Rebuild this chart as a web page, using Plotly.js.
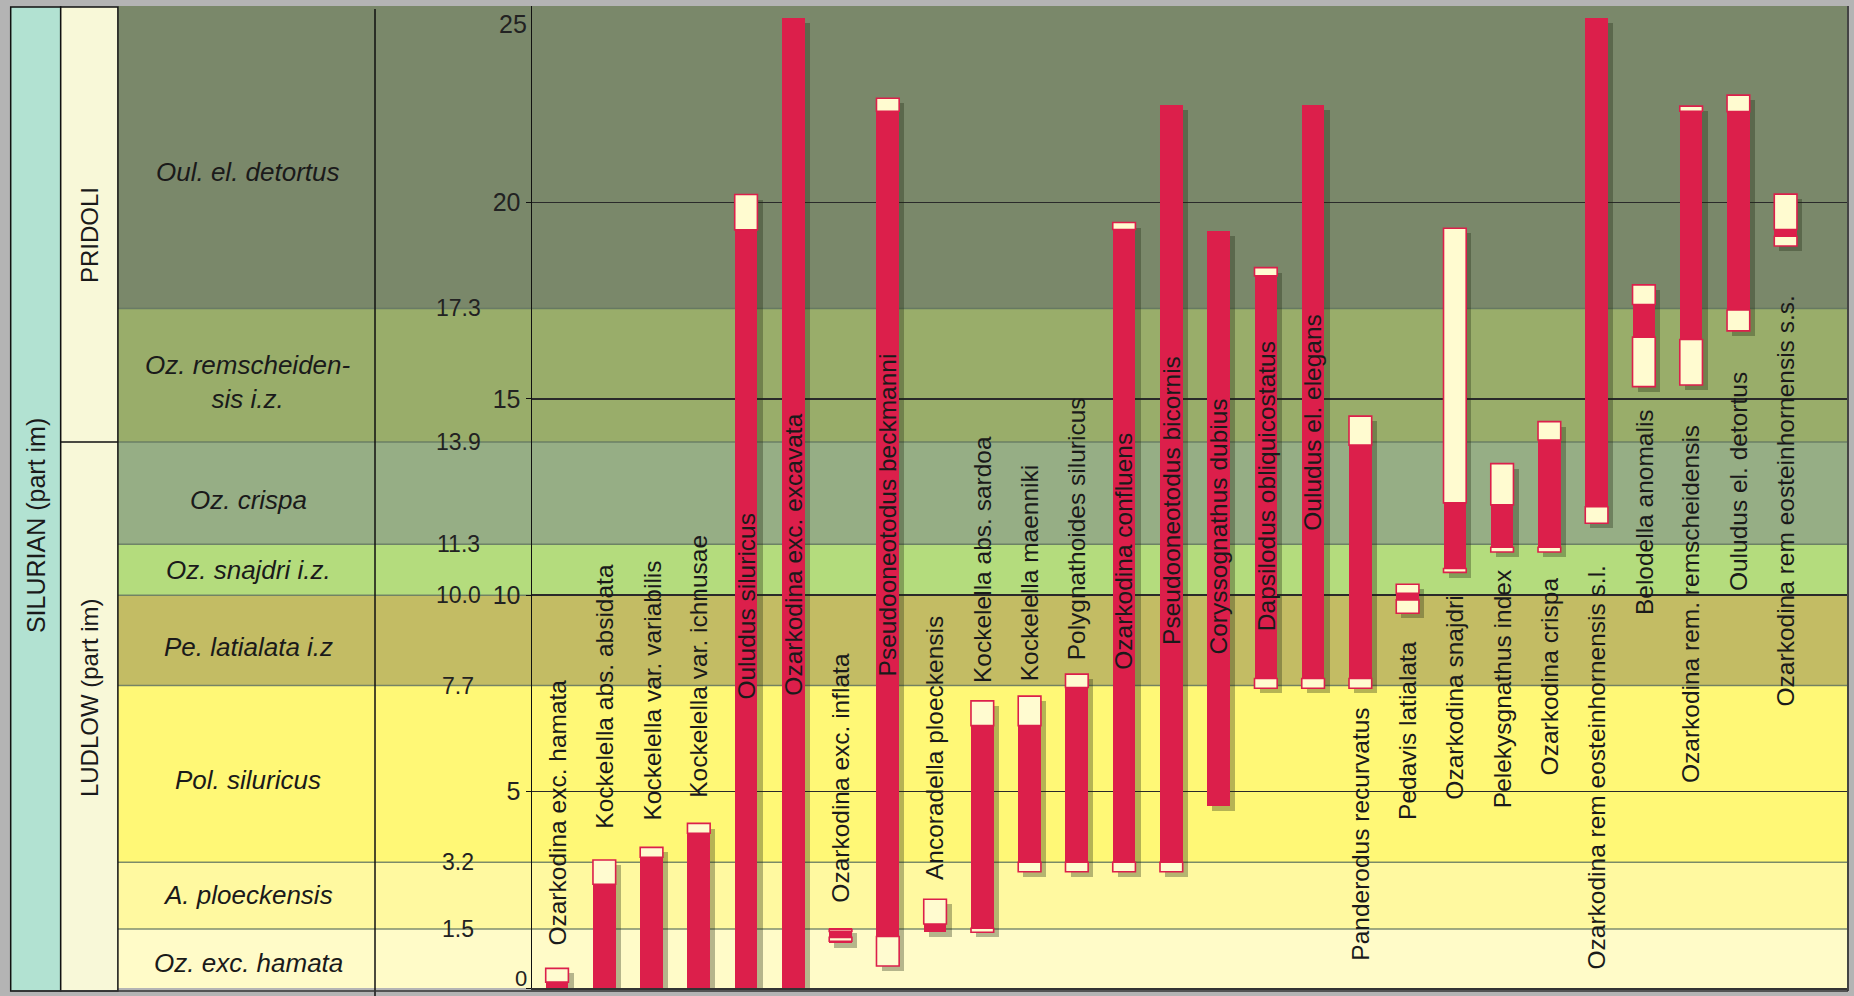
<!DOCTYPE html>
<html><head><meta charset="utf-8">
<script src="https://cdn.plot.ly/plotly-3.0.1.min.js"></script>
<style>html,body{margin:0;padding:0;background:#b4b4b4;overflow:hidden}</style>
</head><body><div id="chart" style="width:1854px;height:996px"></div>
<script>
// ---------------- data ----------------
const species = [
 'Ozarkodina exc. hamata','Kockelella abs. absidata','Kockelella var. variabilis','Kockelella var. ichnusae',
 'Ouludus siluricus','Ozarkodina exc. excavata','Ozarkodina exc. inflata','Pseudooneotodus beckmanni',
 'Ancoradella ploeckensis','Kockelella abs. sardoa','Kockelella maenniki','Polygnathoides siluricus',
 'Ozarkodina confluens','Pseudooneotodus bicornis','Coryssognathus dubius','Dapsilodus obliquicostatus',
 'Ouludus el. elegans','Panderodus recurvatus','Pedavis latialata','Ozarkodina snajdri',
 'Pelekysgnathus index','Ozarkodina crispa','Ozarkodina rem eosteinhornensis s.l.','Belodella anomalis',
 'Ozarkodina rem. remscheidensis','Ouludus el. detortus','Ozarkodina rem eosteinhornensis s.s.'
];
// confirmed (solid red) ranges per species
const solidRanges = [
 [[0,0.15]], [[0,2.64]], [[0,3.33]], [[0,3.94]],
 [[0,19.3]], [[0,24.7]], [[1.14,1.19],[1.29,1.44],[1.49,1.52]], [[1.31,22.32]],
 [[1.42,1.63]], [[1.52,6.68]], [[3.2,6.68]], [[3.2,7.65]],
 [[3.2,19.31]], [[3.2,22.48]], [[4.63,19.27]], [[7.88,18.13]],
 [[7.88,22.48]], [[7.88,13.82]], [[9.88,10.05]], [[10.68,12.35]],
 [[11.22,12.3]], [[11.22,13.95]], [[12.25,24.7]], [[16.57,17.4]],
 [[16.51,22.32]], [[17.26,22.31]], [[19.14,19.31]]
];
// uncertain (open, cream) ranges per species
const openRanges = [
 [[0.15,0.5]], [[2.64,3.26]], [[3.33,3.58]], [[3.94,4.19]],
 [[19.3,20.2]], [], [[1.19,1.29],[1.44,1.49]], [[0.56,1.31],[22.32,22.65]],
 [[1.63,2.26]], [[1.42,1.52],[6.68,7.31]], [[2.96,3.2],[6.68,7.43]], [[2.96,3.2],[7.65,7.99]],
 [[2.96,3.2],[19.31,19.49]], [[2.96,3.2]], [], [[7.63,7.88],[18.13,18.34]],
 [[7.63,7.88]], [[7.63,7.88],[13.82,14.56]], [[9.54,9.88],[10.05,10.28]], [[10.58,10.68],[12.35,19.34]],
 [[11.1,11.22],[12.3,13.35]], [[11.1,11.22],[13.95,14.42]], [[11.83,12.25]], [[15.31,16.57],[17.4,17.9]],
 [[15.35,16.51],[22.32,22.45]], [[16.73,17.26],[22.31,22.73]], [[18.89,19.14],[19.31,20.21]]
];
const zoneBounds = [0, 1.5, 3.2, 7.7, 10.0, 11.3, 13.9, 17.3, 25];
const zoneNames = ['Oz. exc. hamata','A. ploeckensis','Pol. siluricus','Pe. latialata i.z',
  'Oz. snajdri i.z.','Oz. crispa','Oz. remscheiden-<br>sis i.z.','Oul. el. detortus'];
const periodNames = ['LUDLOW (part im)','PRIDOLI'];
const periodBounds = [0, 13.9, 25];
const systemName = 'SILURIAN (part im)';
const yTicks = [0, 5, 10, 15, 20];
const yTop = 25;

// ---------------- layout / style config ----------------
const zoneColors = ['#fffbc8','#fff9a0','#fff876','#c3bc64','#b4dc7d','#96ae85','#99ad6a','#7a886a'];
const zoneLabelY = [0.63, 2.37, 5.3, 8.68, 10.64, 12.42, 15.43, 20.77];
const periodLabelY = [7.38, 19.17];
const systemLabelY = 11.76;
const labelBase = [1.03,4.0,4.2,4.8,7.28,7.4,2.11,7.89,2.7,7.71,7.76,8.3,8.04,8.68,8.43,9.03,11.58,0.64,4.23,4.74,4.53,5.37,0.41,9.44,5.17,10.05,7.12];

const W = 1854, H = 996, L = 532, R = 6, T = 6, B = 8;
const PW = W - L - R, PH = H - T - B;
const px = v => (v - L) / PW;          // page x pixel -> paper
const py = v => (H - B - v) / PH;      // page y pixel -> paper
const FONT = 'Liberation Sans, Arial, sans-serif';
const RED = '#dc1f4b', CREAM = '#fffbd0';
const BW = 0.48;

// ---------------- traces ----------------
function flatten(ranges){
  const x=[], base=[], len=[];
  ranges.forEach((segs,i)=>segs.forEach(s=>{x.push(i);base.push(s[0]);len.push(s[1]-s[0]);}));
  return {x, base, len};
}
const solid = flatten(solidRanges), open = flatten(openRanges);
const shX=[], shBase=[], shLen=[];
species.forEach((s,i)=>{
  const all = solidRanges[i].concat(openRanges[i]);
  const lo = Math.min(...all.map(r=>r[0])), hi = Math.max(...all.map(r=>r[1]));
  shX.push(i); shBase.push(lo-0.13); shLen.push(hi-lo);
});
const traces = [
  {type:'bar', x:shX, base:shBase, y:shLen, width:BW, offset:-BW/2+0.11,
   marker:{color:'rgba(30,40,15,0.33)', line:{width:0}}, hoverinfo:'skip', showlegend:false},
  {type:'bar', x:solid.x, base:solid.base, y:solid.len, width:BW,
   marker:{color:RED, line:{width:0}}, showlegend:false, name:'confirmed'},
  {type:'bar', x:open.x, base:open.base, y:open.len, width:BW,
   marker:{color:CREAM, line:{color:RED, width:1.6}}, showlegend:false, name:'uncertain'}
];

// ---------------- shapes ----------------
const shapes = [];
for(let i=0;i<zoneColors.length;i++){
  shapes.push({type:'rect', xref:'paper', yref:'y', x0:px(118), x1:1, y0:zoneBounds[i], y1:zoneBounds[i+1],
    fillcolor:zoneColors[i], line:{width:0}, layer:'below'});
}
for(let i=1;i<zoneBounds.length-1;i++){
  shapes.push({type:'line', xref:'paper', yref:'y', x0:px(118), x1:1, y0:zoneBounds[i], y1:zoneBounds[i],
    line:{color:'rgba(95,115,95,0.8)', width:1.5}, layer:'below'});
}
shapes.push({type:'rect', xref:'paper', yref:'paper', x0:px(10.7), x1:px(60.7), y0:py(991), y1:py(7),
  fillcolor:'#b2e2d2', line:{color:'#111', width:1.5}, layer:'below'});
shapes.push({type:'rect', xref:'paper', yref:'paper', x0:px(60.7), x1:px(117.9), y0:py(991), y1:py(7),
  fillcolor:'#f8f8d8', line:{color:'#111', width:1.5}, layer:'below'});
for(let i=1;i<periodBounds.length-1;i++){
  shapes.push({type:'line', xref:'paper', yref:'y', x0:px(60.7), x1:px(117.9), y0:periodBounds[i], y1:periodBounds[i],
    line:{color:'#111', width:1.5}});
}
shapes.push({type:'line', xref:'paper', yref:'paper', x0:px(375), x1:px(375), y0:py(996), y1:py(9),
  line:{color:'#111', width:1.5}});
shapes.push({type:'line', xref:'paper', yref:'paper', x0:1, x1:1, y0:py(991), y1:1,
  line:{color:'#444', width:2}});
shapes.push({type:'line', xref:'paper', yref:'paper', x0:px(10.7), x1:1, y0:py(991), y1:py(991),
  line:{color:'#333', width:1.5}});

// ---------------- annotations ----------------
const ann = [];
species.forEach((s,i)=>ann.push({x:i, y:labelBase[i], xref:'x', yref:'y', text:s, textangle:-90,
  xanchor:'center', yanchor:'bottom', showarrow:false, font:{family:FONT, size:24.5, color:'#1a1a1a'}}));
zoneNames.forEach((z,i)=>ann.push({x:px(248), y:zoneLabelY[i], xref:'paper', yref:'y', text:'<i>'+z+'</i>',
  xanchor:'center', yanchor:'middle', showarrow:false, font:{family:FONT, size:26, color:'#1a1a1a'}}));
for(let i=1;i<zoneBounds.length-1;i++){
  ann.push({x:px(458), y:zoneBounds[i], xref:'paper', yref:'y', text:zoneBounds[i].toFixed(1),
    xanchor:'center', yanchor:'middle', showarrow:false, font:{family:FONT, size:23, color:'#222'}});
}
periodNames.forEach((p,i)=>ann.push({x:px(89), y:periodLabelY[i], xref:'paper', yref:'y', text:p, textangle:-90,
  xanchor:'center', yanchor:'middle', showarrow:false, font:{family:FONT, size:24, color:'#1a1a1a'}}));
ann.push({x:px(36), y:systemLabelY, xref:'paper', yref:'y', text:systemName, textangle:-90,
  xanchor:'center', yanchor:'middle', showarrow:false, font:{family:FONT, size:25, color:'#1a1a1a'}});
ann.push({x:px(529), y:yTop, xref:'paper', yref:'y', text:String(yTop), xanchor:'right', yanchor:'top',
  yshift:-2, showarrow:false, font:{family:FONT, size:25, color:'#222'}});
ann.push({x:px(529), y:yTicks[0], xref:'paper', yref:'y', text:String(yTicks[0]), xanchor:'right', yanchor:'bottom',
  yshift:-5, showarrow:false, font:{family:FONT, size:22, color:'#222'}});

const layout = {
  width:W, height:H, margin:{l:L, r:R, t:T, b:B},
  paper_bgcolor:'#b4b4b4', plot_bgcolor:'#7a886a',
  barmode:'overlay', bargap:0,
  xaxis:{range:[-0.53, 27.32], showgrid:false, zeroline:false, showticklabels:false, ticks:'',
    showline:true, linecolor:'#333', linewidth:2, fixedrange:true},
  yaxis:{range:[0, yTop], tickvals:yTicks, ticktext:yTicks.map((v,i)=>i===0?'':String(v)), showgrid:true, gridcolor:'#2a2a2a', gridwidth:1.5,
    zeroline:false, showline:true, linecolor:'#111', linewidth:1.5, ticks:'outside', ticklen:5, tickcolor:'#111',
    tickfont:{family:FONT, size:25, color:'#222'}, fixedrange:true},
  shapes:shapes, annotations:ann, showlegend:false, font:{family:FONT}
};
Plotly.newPlot('chart', traces, layout, {displayModeBar:false, staticPlot:true});
</script></body></html>
